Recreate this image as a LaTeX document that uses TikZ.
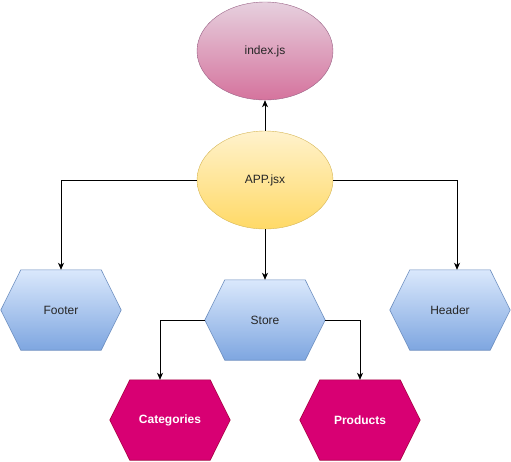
\documentclass[tikz,border=0pt]{standalone}
\usepackage{fontspec}
\setmainfont{Liberation Sans}
\usetikzlibrary{arrows.meta,shapes,calc,positioning,backgrounds}
\definecolor{idxtop}{HTML}{E6D0DE}
\definecolor{idxbot}{HTML}{D5739D}
\definecolor{idxline}{HTML}{996185}
\definecolor{apptop}{HTML}{FFF2CC}
\definecolor{appbot}{HTML}{FFD966}
\definecolor{appline}{HTML}{D6B656}
\definecolor{hextop}{HTML}{DAE8FC}
\definecolor{hexbot}{HTML}{7EA6E0}
\definecolor{hexline}{HTML}{6C8EBF}
\definecolor{leaffill}{HTML}{D80073}
\definecolor{leafline}{HTML}{A50040}
\tikzstyle{edge}   =[->, >={Stealth[length=7pt, width=6pt, inset=2pt]},
                     line width=0.8pt]
\tikzstyle{oval}   =[ellipse, inner sep=0pt, minimum width=136pt,
                     minimum height=98pt, text=black!85,
                     font=\fontsize{12}{14}\selectfont]
\tikzstyle{hexbox} =[rectangle, inner sep=0pt, minimum width=120pt,
                     minimum height=80pt, text=black!85,
                     font=\fontsize{12}{14}\selectfont]
\tikzstyle{leafbox}=[hexbox, text=white,
                     font=\fontsize{12}{14}\selectfont\bfseries]
\tikzstyle{bluehex}=[top color=hextop, bottom color=hexbot,
                     draw=hexline, line width=0.6pt]
\tikzstyle{pinkhex}=[fill=leaffill, draw=leafline, line width=0.6pt]

\begin{document}
\begin{tikzpicture}[x=1pt, y=-1pt, node distance=128pt, on grid]
            \useasboundingbox (0,0) rectangle (511,461);
            \node (app) [oval, top color=apptop, bottom color=appbot,
                         draw=appline] at (265,180) {APP.jsx};
            \node (idx) [oval, top color=idxtop, bottom color=idxbot,
                         draw=idxline, above=129pt of app] {index.js};
            \node (footer) [hexbox, below left=130pt and 204pt of app] {Footer};
            \node (store) [hexbox, below=140pt of app] {Store};
            \node (header) [hexbox, below right=130pt and 185pt of app] {Header};
            \node (cat) [leafbox, below left=100pt and 95pt of store] {Categories};
            \node (prod) [leafbox, below right=100pt and 95pt of store] {Products};

            % hexagon outlines behind the labels
            \begin{scope}[on background layer]
            \foreach \n/\s in {footer/bluehex, store/bluehex, header/bluehex,
                               cat/pinkhex, prod/pinkhex}
                \draw[\s] (\n.west) -- ([xshift=20pt]\n.north west)
                    -- ([xshift=-20pt]\n.north east) -- (\n.east)
                    -- ([xshift=-20pt]\n.south east)
                    -- ([xshift=20pt]\n.south west) -- cycle;
            \end{scope}

            \draw[edge] (app) to (idx);
            \draw[edge] (app.west) -| (footer.north);
            \draw[edge] (app.east) -| ([xshift=7pt]header.north);
            \draw[edge] (app) to (store);
            \draw[edge] (store.west) -| ([xshift=-10pt]cat.north);
            \draw[edge] (store.east) -| (prod.north);

        \end{tikzpicture}
\end{document}
